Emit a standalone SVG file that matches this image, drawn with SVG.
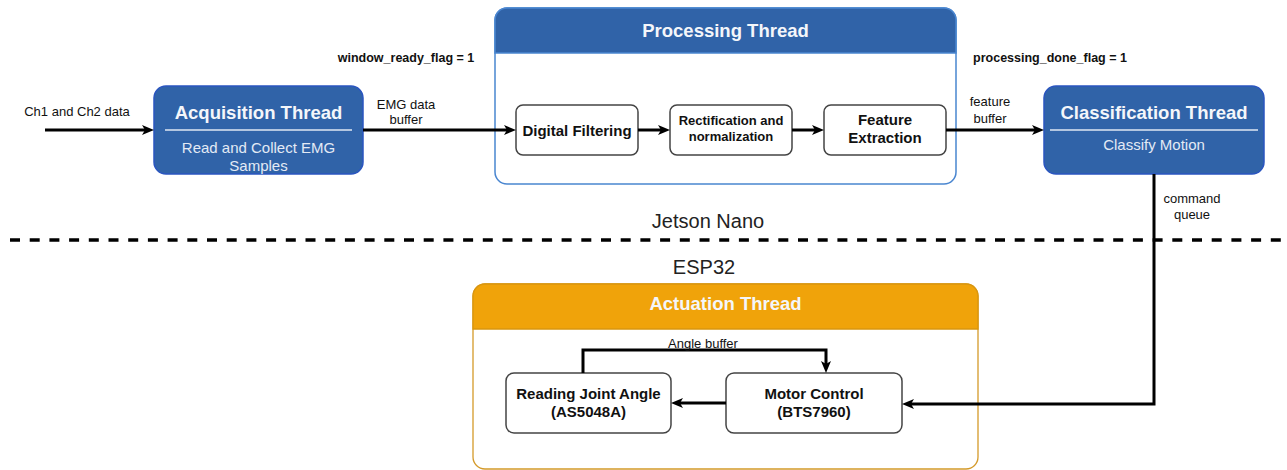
<svg xmlns="http://www.w3.org/2000/svg" width="1287" height="470" viewBox="0 0 1287 470">
<style>
text{font-family:"Liberation Sans",Arial,sans-serif;}
.title{font-size:18.5px;font-weight:bold;fill:#f4f6fa;text-anchor:middle;}
.sub{font-size:15px;fill:#e3eaf5;text-anchor:middle;}
.inner{font-size:15px;font-weight:bold;fill:#111;text-anchor:middle;}
.lbl{font-size:13px;fill:#111;text-anchor:middle;}
.flag{font-size:12.5px;font-weight:bold;fill:#111;text-anchor:middle;}
.big{font-size:20px;fill:#222;text-anchor:middle;}
.bluebox{fill:#3063a8;stroke:#2a55c0;stroke-width:1.5;}
.sep{stroke:#dfe7f3;stroke-width:1.5;}
.ibox{fill:#fff;stroke:#444;stroke-width:1.5;}
.conn{fill:none;stroke:#000;stroke-width:3;}
</style>
<defs>
<marker id="arr" viewBox="0 0 12 10" refX="6" refY="5" markerWidth="12" markerHeight="10" markerUnits="userSpaceOnUse" orient="auto">
<path d="M0,0 L12,5 L0,10 L3,5 Z" fill="#000"/>
</marker>
</defs>

<g id="divider">
<line x1="10" y1="240" x2="1287" y2="240" stroke="#000" stroke-width="3.5" stroke-dasharray="10 9.7"/>
<text class="big" x="708" y="228">Jetson Nano</text>
<text class="big" x="704" y="273.5">ESP32</text>
</g>

<g id="processing">
<rect x="495" y="8" width="461" height="176" rx="12" fill="#fff" stroke="#4a86d0" stroke-width="1.5"/>
<path d="M495,53 V20 A12,12 0 0 1 507,8 H944 A12,12 0 0 1 956,20 V53 Z" fill="#3063a8" stroke="#4a86d0" stroke-width="1.5"/>
<text class="title" x="725.5" y="36.5">Processing Thread</text>
</g>

<g id="actuation">
<rect x="473" y="284" width="505" height="185" rx="12" fill="#fff" stroke="#d49a2a" stroke-width="1.3"/>
<path d="M473,329 V296 A12,12 0 0 1 485,284 H966 A12,12 0 0 1 978,296 V329 Z" fill="#f0a30a" stroke="#d9960f" stroke-width="1.3"/>
<text class="title" x="725.5" y="310">Actuation Thread</text>
</g>

<g id="acquisition">
<rect class="bluebox" x="154" y="86" width="209" height="88" rx="12"/>
<line class="sep" x1="165" y1="130" x2="352" y2="130"/>
<text class="title" x="258.5" y="118.5">Acquisition Thread</text>
<text class="sub" x="258.5" y="153">Read and Collect EMG</text>
<text class="sub" x="258.5" y="170.5">Samples</text>
</g>

<g id="classification">
<rect class="bluebox" x="1044" y="86" width="220" height="88" rx="12"/>
<line class="sep" x1="1050" y1="130" x2="1258" y2="130"/>
<text class="title" x="1154" y="118.5">Classification Thread</text>
<text class="sub" x="1154" y="150">Classify Motion</text>
</g>

<g id="digital-filtering">
<rect class="ibox" x="516" y="105" width="122" height="50" rx="7"/>
<text class="inner" x="577" y="135.5">Digital Filtering</text>
</g>

<g id="rectification">
<rect class="ibox" x="670" y="105" width="122" height="50" rx="7"/>
<text class="inner" x="731" y="124.5" style="font-size:13px">Rectification and</text>
<text class="inner" x="731" y="140.5" style="font-size:13px">normalization</text>
</g>

<g id="feature-extraction">
<rect class="ibox" x="824" y="105" width="122" height="50" rx="7"/>
<text class="inner" x="885" y="124.5">Feature</text>
<text class="inner" x="885" y="142.5">Extraction</text>
</g>

<g id="reading-joint-angle">
<rect class="ibox" x="506" y="373" width="165" height="60" rx="8"/>
<text class="inner" x="588.5" y="398.5">Reading Joint Angle</text>
<text class="inner" x="588.5" y="417">(AS5048A)</text>
</g>

<g id="motor-control">
<rect class="ibox" x="726" y="373" width="176" height="60" rx="8"/>
<text class="inner" x="814" y="398.5">Motor Control</text>
<text class="inner" x="814" y="417">(BTS7960)</text>
</g>

<g id="connectors">
<path class="conn" d="M45,130 H148" marker-end="url(#arr)"/>
<path class="conn" d="M363,130 H510" marker-end="url(#arr)"/>
<path class="conn" d="M638,130 H664" marker-end="url(#arr)"/>
<path class="conn" d="M792,130 H818" marker-end="url(#arr)"/>
<path class="conn" d="M946,130 H1038" marker-end="url(#arr)"/>
<path class="conn" d="M1154,174 V404 H908" marker-end="url(#arr)"/>
<path class="conn" d="M726,403 H677" marker-end="url(#arr)"/>
<path class="conn" d="M583,373 V350 H826 V367" marker-end="url(#arr)"/>
<text class="lbl" x="77" y="116">Ch1 and Ch2 data</text>
<text class="flag" x="406" y="62">window_ready_flag = 1</text>
<text class="lbl" x="406" y="109">EMG data</text>
<text class="lbl" x="406" y="124">buffer</text>
<text class="flag" x="1050" y="62">processing_done_flag = 1</text>
<text class="lbl" x="990" y="106">feature</text>
<text class="lbl" x="990" y="123">buffer</text>
<text class="lbl" x="1192" y="203">command</text>
<text class="lbl" x="1192" y="219">queue</text>
<text class="lbl" x="703" y="347.5">Angle buffer</text>
</g>
</svg>
